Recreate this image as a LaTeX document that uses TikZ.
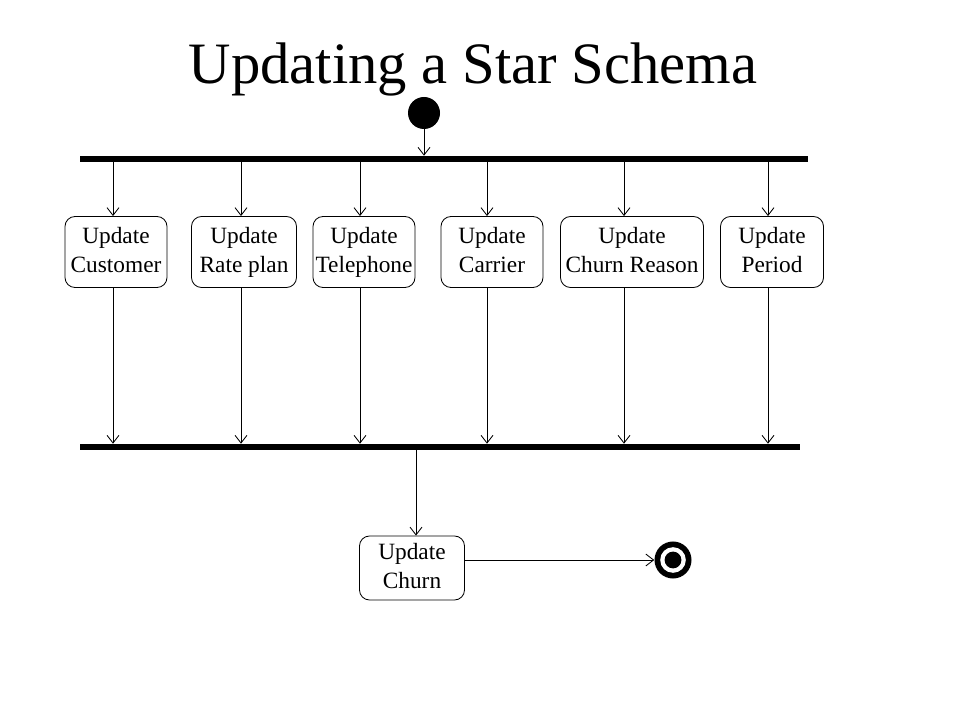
\documentclass[tikz,border=0pt]{standalone}
\usepackage{fontspec}
\setmainfont{Liberation Serif}
\usetikzlibrary{arrows.meta}
\begin{document}
\begin{tikzpicture}[x=0.025cm, y=-0.025cm]
%define
\tikzstyle{state} = [rectangle, rounded corners=0.25cm, minimum width=2.55cm, minimum height=1.775cm, text centered, draw=black, line width=0.6pt, align=center, inner sep=0pt, font=\fontsize{16.6}{20.6}\selectfont, execute at end node=\vphantom{p}]
\tikzstyle{bar} = [rectangle, fill=black, minimum height=0.15cm, inner sep=0pt]
\tikzstyle{dot} = [circle, fill=black, inner sep=0pt]
\tikzstyle{arrow} = [-{Straight Barb[length=5.5pt, width=8.5pt]}, line width=0.6pt]

\useasboundingbox (0,0) rectangle (960,720);

%title
\node[anchor=base, font=\fontsize{41.7}{48}\selectfont](title) at (473,84){Updating a Star Schema};

%start and bars
\node[dot, minimum size=0.8cm](state_Start) at (424,113){};
\node[bar, minimum width=18.2cm](state_Fork) at (444,159){};
\node[bar, minimum width=18cm](state_Join) at (440,447){};

%states
\node[state](state_Customer) at (116,252){Update\\Customer};
\node[state, minimum width=2.625cm](state_Rate) at (244,252){Update\\Rate plan};
\node[state](state_Telephone) at (364,252){Update\\Telephone};
\node[state](state_Carrier) at (492,252){Update\\Carrier};
\node[state, minimum width=3.575cm](state_Reason) at (632,252){Update\\Churn Reason};
\node[state, minimum width=2.575cm](state_Period) at (772,252){Update\\Period};
\node[state, minimum width=2.625cm, minimum height=1.6cm](state_Churn) at (412,568){Update\\Churn};

%end
\node[dot, minimum size=0.925cm](state_End) at (673,560){};
\fill[white](state_End) circle (0.32cm);
\fill[black](state_End) circle (0.21cm);

%line positions
\coordinate (a_Customer) at (113,0);
\coordinate (a_Rate) at (241,0);
\coordinate (a_Telephone) at (360,0);
\coordinate (a_Carrier) at (487,0);
\coordinate (a_Reason) at (624,0);
\coordinate (a_Period) at (768,0);
\coordinate (a_Churn) at (416,0);

%line
\draw[arrow](state_Start.south)--(state_Fork.north -| state_Start);
\draw[arrow](state_Fork.south -| a_Customer)--(state_Customer.north -| a_Customer);
\draw[arrow](state_Fork.south -| a_Rate)--(state_Rate.north -| a_Rate);
\draw[arrow](state_Fork.south -| a_Telephone)--(state_Telephone.north -| a_Telephone);
\draw[arrow](state_Fork.south -| a_Carrier)--(state_Carrier.north -| a_Carrier);
\draw[arrow](state_Fork.south -| a_Reason)--(state_Reason.north -| a_Reason);
\draw[arrow](state_Fork.south -| a_Period)--(state_Period.north -| a_Period);
\draw[arrow](state_Customer.south -| a_Customer)--(state_Join.north -| a_Customer);
\draw[arrow](state_Rate.south -| a_Rate)--(state_Join.north -| a_Rate);
\draw[arrow](state_Telephone.south -| a_Telephone)--(state_Join.north -| a_Telephone);
\draw[arrow](state_Carrier.south -| a_Carrier)--(state_Join.north -| a_Carrier);
\draw[arrow](state_Reason.south -| a_Reason)--(state_Join.north -| a_Reason);
\draw[arrow](state_Period.south -| a_Period)--(state_Join.north -| a_Period);
\draw[arrow](state_Join.south -| a_Churn)--(state_Churn.north -| a_Churn);
\draw[arrow](state_Churn.east |- state_End)--(state_End.west);

\end{tikzpicture}
\end{document}
